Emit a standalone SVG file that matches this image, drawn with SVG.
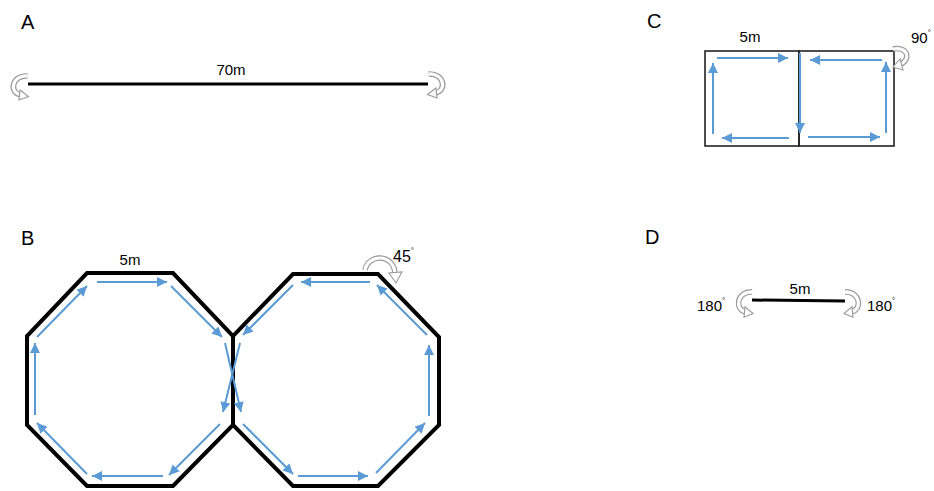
<svg xmlns="http://www.w3.org/2000/svg" width="934" height="491" viewBox="0 0 934 491">
<style>
.lbl{font-family:"Liberation Sans",Arial,sans-serif;fill:#000}
.panel{font-size:20px}
.dim{font-size:15px}
.oct{fill:none;stroke:#000;stroke-width:4;stroke-linejoin:miter}
.sq{fill:none;stroke:#222;stroke-width:1.6}
.flow{stroke:#5B9BD5;stroke-width:2;fill:none;marker-end:url(#ah)}
.turnO{fill:none;stroke:#9a9a9a;stroke-width:5.5;stroke-linecap:butt}
.turnI{fill:none;stroke:#fff;stroke-width:3.2}
.turnH{fill:#fff;stroke:#9a9a9a;stroke-width:1.1;stroke-linejoin:miter}
</style>
<defs>
<marker id="ah" markerUnits="userSpaceOnUse" markerWidth="11" markerHeight="10" refX="10" refY="5" orient="auto">
<path d="M0,0 L10,5 L0,10 z" fill="#5B9BD5"/>
</marker>
<g id="uturn">
<path class="turnO" d="M8,0 C -7,-1 -10,17 2,19"/>
<path class="turnI" d="M8,0 C -7,-1 -10,17 2,19"/>
<polygon class="turnH" points="1,14 9,20.5 0,24"/>
</g>
</defs>
<rect width="934" height="491" fill="#fff"/>

<g id="panelA">
<text class="lbl panel" x="21" y="29">A</text>
<line x1="28" y1="84" x2="428" y2="84" stroke="#000" stroke-width="3"/>
<text class="lbl dim" x="231" y="75" text-anchor="middle">70m</text>
<use href="#uturn" transform="translate(19,76) scale(1.05,1)"/>
<use href="#uturn" transform="translate(437,74) scale(-1.05,1)"/>
</g>

<g id="panelB">
<text class="lbl panel" x="21" y="245">B</text>
<g id="octLeft"><polygon class="oct" points="87,273 173,273 233,336 233,425 173,486 87,486 27,425 27,336"/></g>
<g id="octRight"><polygon class="oct" points="293,274 378,274 439,337 439,425 378,486 293,486 233,425 233,336"/></g>
<text class="lbl dim" x="130" y="265" text-anchor="middle">5m</text>
<text class="lbl" x="393" y="262" font-size="16">45<tspan font-size="8" dy="-9">°</tspan></text>
<g>
<path class="turnO" d="M365,270 C 368,254 393,253 395,273"/>
<path class="turnI" d="M365,270 C 368,254 393,253 395,273"/>
<polygon class="turnH" points="389,273 396,283 402,272"/>
</g>
</g>

<g id="panelC">
<text class="lbl panel" x="647" y="28">C</text>
<g id="sqLeft"><rect class="sq" x="705" y="51" width="94" height="95"/></g>
<g id="sqRight"><rect class="sq" x="799" y="51" width="95" height="95"/></g>
<text class="lbl dim" x="750" y="42" text-anchor="middle">5m</text>
<text class="lbl dim" x="911" y="43">90<tspan font-size="8" dy="-8">°</tspan></text>
<g>
<path class="turnO" d="M893,49 C 908,46 912,60 899,65"/>
<path class="turnI" d="M893,49 C 908,46 912,60 899,65"/>
<polygon class="turnH" points="900,59 893,67 903,70"/>
</g>
</g>

<g id="panelD">
<text class="lbl panel" x="645" y="244">D</text>
<line x1="752" y1="300" x2="845" y2="301" stroke="#000" stroke-width="3"/>
<text class="lbl dim" x="800" y="294" text-anchor="middle">5m</text>
<text class="lbl dim" x="697" y="311">180<tspan font-size="8" dy="-8">°</tspan></text>
<text class="lbl dim" x="867" y="311">180<tspan font-size="8" dy="-8">°</tspan></text>
<use href="#uturn" transform="translate(744,292) scale(1,1.05)"/>
<use href="#uturn" transform="translate(853,292) scale(-1,1.05)"/>
</g>

<g id="connectors">
<line class="flow" x1="97" y1="282" x2="167" y2="282"/>
<line class="flow" x1="171" y1="286" x2="222" y2="337"/>
<line class="flow" x1="240" y1="343" x2="223" y2="412"/>
<line class="flow" x1="220" y1="424" x2="169" y2="475"/>
<line class="flow" x1="163" y1="476" x2="92" y2="476"/>
<line class="flow" x1="87" y1="474" x2="37" y2="423"/>
<line class="flow" x1="35" y1="415" x2="35" y2="343"/>
<line class="flow" x1="37" y1="337" x2="87" y2="286"/>

<line class="flow" x1="293" y1="285" x2="243" y2="335"/>
<line class="flow" x1="225" y1="343" x2="241" y2="412"/>
<line class="flow" x1="243" y1="424" x2="293" y2="474"/>
<line class="flow" x1="298" y1="476" x2="368" y2="476"/>
<line class="flow" x1="376" y1="473" x2="425" y2="423"/>
<line class="flow" x1="429" y1="416" x2="429" y2="345"/>
<line class="flow" x1="427" y1="335" x2="377" y2="285"/>
<line class="flow" x1="370" y1="282" x2="301" y2="282"/>

<line class="flow" x1="717" y1="58" x2="788" y2="58"/>
<line class="flow" x1="800" y1="53" x2="800" y2="133"/>
<line class="flow" x1="789" y1="138" x2="722" y2="138"/>
<line class="flow" x1="713" y1="134" x2="713" y2="63"/>
<line class="flow" x1="808" y1="137" x2="880" y2="137"/>
<line class="flow" x1="886" y1="133" x2="886" y2="62"/>
<line class="flow" x1="882" y1="60" x2="810" y2="60"/>
</g>
</svg>
